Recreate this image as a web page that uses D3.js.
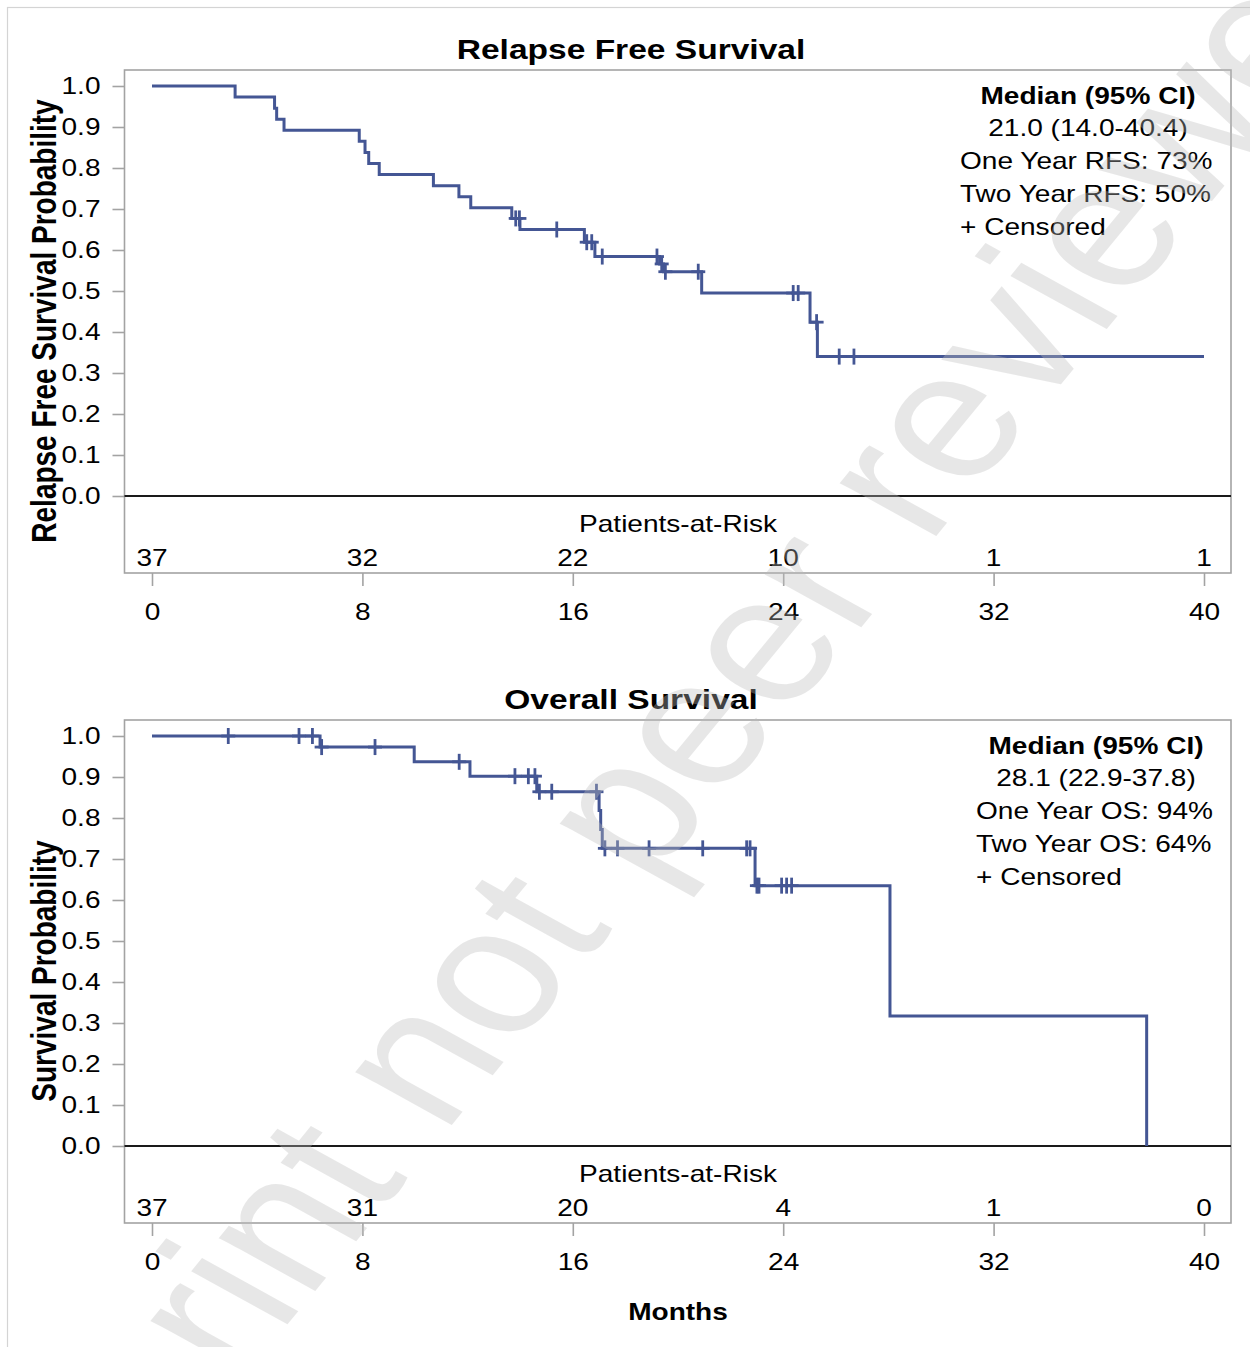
<!DOCTYPE html>
<html>
<head>
<meta charset="utf-8">
<script src="https://cdn.jsdelivr.net/npm/d3@7/dist/d3.min.js"></script>
<style>
  html, body { margin: 0; padding: 0; background: #fff; }
  svg { display: block; }
  text { font-family: "Liberation Sans", Arial, Helvetica, sans-serif; fill: #000; }
</style>
</head>
<body>
<svg id="chart" width="1250" height="1347"></svg>
<script>
// ---------------- DATA ----------------
const xTicks = [0, 8, 16, 24, 32, 40];
const yTicks = [0.0, 0.1, 0.2, 0.3, 0.4, 0.5, 0.6, 0.7, 0.8, 0.9, 1.0];

// Relapse Free Survival (step start times and survival after each step)
const rfsTimes = [0, 3.16, 4.66, 4.74, 5.02, 7.88, 8.10, 8.24, 8.64, 10.70, 11.67, 12.12, 13.68, 13.99, 16.44, 16.84, 19.30, 19.45, 20.90, 25.02, 25.30];
const rfsSurv  = [1.0, 0.973, 0.946, 0.919, 0.892, 0.865, 0.838, 0.811, 0.784, 0.757, 0.730, 0.703, 0.677, 0.650, 0.619, 0.584, 0.566, 0.547, 0.495, 0.424, 0.340];
const rfsEnd = 40;
const rfsCensor = [13.83, 13.97, 15.39, 16.53, 16.72, 17.12, 19.20, 19.38, 19.52, 20.77, 24.38, 24.57, 25.27, 26.13, 26.69];
const rfsRisk = [37, 32, 22, 10, 1, 1];
const rfsLegend = ["Median (95% CI)", "21.0 (14.0-40.4)", "One Year RFS: 73%", "Two Year RFS: 50%", "+ Censored"];

// Overall Survival
const osTimes = [0, 6.39, 9.97, 12.09, 14.63, 17.00, 17.06, 17.12, 22.93, 28.06, 37.82];
const osSurv  = [1.0, 0.973, 0.937, 0.902, 0.864, 0.818, 0.772, 0.726, 0.635, 0.317, 0.0];
const osEnd = 37.82;
const osCensor = [2.90, 5.59, 6.10, 6.45, 8.48, 11.68, 13.80, 14.31, 14.56, 14.73, 15.20, 16.90, 17.22, 17.70, 18.90, 20.94, 22.61, 22.74, 23.00, 23.08, 23.94, 24.13, 24.32];
const osRisk = [37, 31, 20, 4, 1, 0];
const osLegend = ["Median (95% CI)", "28.1 (22.9-37.8)", "One Year OS: 94%", "Two Year OS: 64%", "+ Censored"];

// ---------------- STYLE / LAYOUT ----------------
const SX = 1.22;              // horizontal glyph stretch seen in reference
const lineColor = "#445694";
const gridGray = "#a3a3a3";
const svg = d3.select("#chart");

function stretch(sel) {
  sel.each(function () {
    const t = d3.select(this);
    const x = +t.attr("x") || 0;
    const y = +t.attr("y") || 0;
    const prev = t.attr("transform") || "";
    t.attr("transform", `${prev} translate(${x},${y}) scale(${SX},1) translate(${-x},${-y})`);
  });
  return sel;
}

// outer frame
svg.append("rect").attr("x", 7.5).attr("y", 7.5).attr("width", 1300).attr("height", 1400)
  .attr("fill", "none").attr("stroke", "#d4d4d4").attr("stroke-width", 1.2);

const x = d3.scaleLinear().domain([0, 40]).range([152, 1204]);

const panels = [
  { off: 0,   title: "Relapse Free Survival", ylab: "Relapse Free Survival Probability",
    times: rfsTimes, surv: rfsSurv, end: rfsEnd, censor: rfsCensor, risk: rfsRisk,
    legend: rfsLegend, legLeft: 960, legRight: 1216 },
  { off: 650, title: "Overall Survival", ylab: "Survival Probability",
    times: osTimes, surv: osSurv, end: osEnd, censor: osCensor, risk: osRisk,
    legend: osLegend, legLeft: 976, legRight: 1216 }
];

panels.forEach(p => {
  const g = svg.append("g").attr("transform", `translate(0,${p.off})`);
  const y = d3.scaleLinear().domain([0, 1]).range([496, 86]);
  const boxL = 124.5, boxR = 1231, boxT = 70, boxB = 573;

  // plot box
  g.append("rect").attr("x", boxL).attr("y", boxT).attr("width", boxR - boxL).attr("height", boxB - boxT)
    .attr("fill", "none").attr("stroke", gridGray).attr("stroke-width", 1.6);

  // y axis
  const ya = g.append("g").attr("transform", `translate(${boxL},0)`)
    .call(d3.axisLeft(y).tickValues(yTicks).tickFormat(d3.format(".1f")).tickSize(12).tickPadding(12));
  ya.select(".domain").remove();
  ya.selectAll(".tick line").attr("stroke", gridGray).attr("stroke-width", 1.6);
  ya.selectAll(".tick text").attr("font-size", 23).attr("fill", "#000")
    .style("font-family", '"Liberation Sans", Arial, sans-serif');
  stretch(ya.selectAll(".tick text"));

  // x axis
  const xa = g.append("g").attr("transform", `translate(0,${boxB})`)
    .call(d3.axisBottom(x).tickValues(xTicks).tickSize(13).tickPadding(18));
  xa.select(".domain").remove();
  xa.selectAll(".tick line").attr("stroke", gridGray).attr("stroke-width", 1.6);
  xa.selectAll(".tick text").attr("font-size", 23).attr("fill", "#000")
    .style("font-family", '"Liberation Sans", Arial, sans-serif');
  stretch(xa.selectAll(".tick text"));

  // zero reference line
  g.append("line").attr("x1", boxL).attr("x2", boxR).attr("y1", y(0)).attr("y2", y(0))
    .attr("stroke", "#1a1a1a").attr("stroke-width", 1.8);

  // title
  stretch(g.append("text").attr("x", 631).attr("y", 59).attr("text-anchor", "middle")
    .attr("font-size", 27.5).attr("font-weight", "bold").text(p.title));

  // y label
  g.append("text").attr("text-anchor", "middle").attr("font-size", 28).attr("font-weight", "bold")
    .attr("transform", `translate(56,321) scale(${SX},1) rotate(-90)`).text(p.ylab);

  // Patients-at-risk
  stretch(g.append("text").attr("x", 678).attr("y", 532).attr("text-anchor", "middle")
    .attr("font-size", 23).text("Patients-at-Risk"));
  g.selectAll(".risk").data(p.risk).enter().append("text")
    .attr("class", "risk").attr("x", (d, i) => x(xTicks[i])).attr("y", 566)
    .attr("text-anchor", "middle").attr("font-size", 23).text(d => d)
    .call(stretch);

  // survival step line
  const pts = p.times.map((t, i) => [t, p.surv[i]]);
  if (p.end > p.times[p.times.length - 1]) pts.push([p.end, p.surv[p.surv.length - 1]]);
  const line = d3.line().x(d => x(d[0])).y(d => y(d[1])).curve(d3.curveStepAfter);
  g.append("path").attr("d", line(pts)).attr("fill", "none")
    .attr("stroke", lineColor).attr("stroke-width", 3).attr("stroke-linejoin", "miter");

  // censor marks
  const survAt = t => p.surv[Math.max(0, d3.bisectRight(p.times, t) - 1)];
  const cg = g.append("g").attr("stroke", lineColor).attr("stroke-width", 2.8);
  p.censor.forEach(t => {
    const cx = x(t), cy = y(survAt(t));
    cg.append("line").attr("x1", cx).attr("x2", cx).attr("y1", cy - 8).attr("y2", cy + 8);
    cg.append("line").attr("x1", cx - 7).attr("x2", cx + 7).attr("y1", cy).attr("y2", cy);
  });

  // legend / statistics block
  const lc = (p.legLeft + p.legRight) / 2;
  const baselines = [104, 136, 169, 202, 235];
  p.legend.forEach((s, i) => {
    const t = g.append("text").attr("y", baselines[i]).attr("font-size", 23).text(s);
    if (i === 0) t.attr("font-weight", "bold");
    if (i < 2) t.attr("x", lc).attr("text-anchor", "middle");
    else t.attr("x", p.legLeft).attr("text-anchor", "start");
    stretch(t);
  });
});

// x axis title
stretch(svg.append("text").attr("x", 678).attr("y", 1320).attr("text-anchor", "middle")
  .attr("font-size", 23).attr("font-weight", "bold").text("Months"));

// watermark
svg.append("text").attr("text-anchor", "middle").attr("dy", "0.27em")
  .attr("font-size", 180).style("fill", "#bdbdbd").style("opacity", 0.35)
  .attr("transform", `translate(650,797) scale(${SX},1) rotate(-56)`)
  .text("Preprint not peer reviewed");
</script>
</body>
</html>
